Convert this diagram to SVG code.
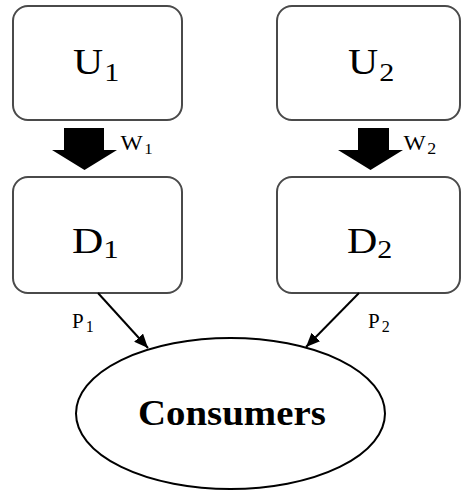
<svg xmlns="http://www.w3.org/2000/svg" width="462" height="491" viewBox="0 0 462 491">
  <defs>
    <style>
      .box { fill: #ffffff; stroke: #4a4a4a; stroke-width: 2; }
      .oval { fill: #ffffff; stroke: #000000; stroke-width: 2; }
      .flow { fill: #000000; stroke: none; }
      .link { stroke: #000000; stroke-width: 2; fill: none; }
      .lbl { font-family: "Liberation Serif", "Times New Roman", serif; fill: #000000; }
    </style>
    <marker id="tip" viewBox="0 0 14 12" refX="14" refY="6" markerWidth="14" markerHeight="12" markerUnits="userSpaceOnUse" orient="auto">
      <path d="M0,0 L14,6 L0,12 Z" fill="#000000"/>
    </marker>
  </defs>

  <rect width="462" height="491" fill="#ffffff"/>

  <!-- upstream firms -->
  <g id="U1">
    <rect class="box" x="13" y="6" width="169" height="114" rx="15" ry="15"/>
    <text class="lbl" font-size="36" transform="translate(73,74) scale(1.16,1)">U<tspan font-size="26" dy="7" dx="1">1</tspan></text>
  </g>
  <g id="U2">
    <rect class="box" x="277" y="6" width="183" height="114" rx="15" ry="15"/>
    <text class="lbl" font-size="36" transform="translate(348,74) scale(1.16,1)">U<tspan font-size="26" dy="7" dx="1">2</tspan></text>
  </g>

  <!-- downstream firms -->
  <g id="D1">
    <rect class="box" x="13" y="177" width="169" height="116" rx="15" ry="15"/>
    <text class="lbl" font-size="35" transform="translate(72,253) scale(1.24,1)">D<tspan font-size="25" dy="5" dx="0">1</tspan></text>
  </g>
  <g id="D2">
    <rect class="box" x="277" y="177" width="183" height="116" rx="15" ry="15"/>
    <text class="lbl" font-size="35" transform="translate(347,253) scale(1.2,1)">D<tspan font-size="25" dy="5" dx="0">2</tspan></text>
  </g>

  <!-- final market -->
  <g id="Consumers">
    <ellipse class="oval" cx="230.5" cy="413.5" rx="154.5" ry="75.5"/>
    <text class="lbl" font-size="35" font-weight="bold" transform="translate(138,425) scale(1.11,1)">Consumers</text>
  </g>

  <!-- connectors: wholesale supply (block arrows) and retail sales -->
  <g id="connectors">
    <path class="flow" d="M64,128 H104 V150 H117 L84.5,170 L52,150 H64 Z"/>
    <path class="flow" d="M358,128 H389 V150 H403 L370.5,170 L338,150 H358 Z"/>
    <line class="link" x1="98" y1="293" x2="148" y2="348" marker-end="url(#tip)"/>
    <line class="link" x1="359" y1="293" x2="306" y2="347" marker-end="url(#tip)"/>

    <text class="lbl" font-size="21" transform="translate(120.5,150) scale(1.12,1)">W<tspan font-size="15" dy="4" dx="1.3">1</tspan></text>
    <text class="lbl" font-size="21" transform="translate(403.5,150) scale(1.12,1)">W<tspan font-size="16" dy="4" dx="1.3">2</tspan></text>
    <text class="lbl" font-size="21" transform="translate(72,328)">P<tspan font-size="16" dy="4" dx="2">1</tspan></text>
    <text class="lbl" font-size="21" transform="translate(368,328)">P<tspan font-size="16" dy="4" dx="2">2</tspan></text>
  </g>
</svg>
